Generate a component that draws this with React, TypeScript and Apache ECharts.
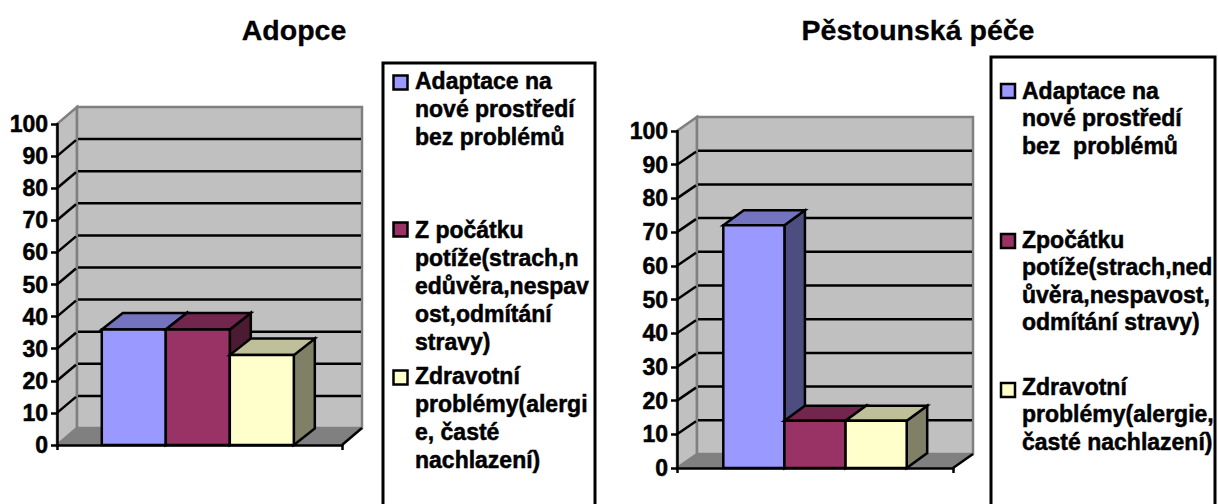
import React, { useEffect, useRef } from "react";
import * as echarts from "echarts";

const seriesNames = ["Adaptace", "Počátek", "Zdravotní"];
const adopceValues = [36, 36, 28];
const pestounskaValues = [72, 14, 14];
const yTicks = [10, 20, 30, 40, 50, 60, 70, 80, 90];
const titles = ["Adopce", "Pěstounská péče"];
const legendAdopce = [
  "Adaptace na\nnové prostředí\nbez problémů",
  "Z počátku\npotíže(strach,n\nedůvěra,nespav\nost,odmítání\nstravy)",
  "Zdravotní\nproblémy(alergi\ne, časté\nnachlazení)",
];
const legendPestounska = [
  "Adaptace na\nnové prostředí\nbez  problémů",
  "Zpočátku\npotíže(strach,ned\nůvěra,nespavost,\nodmítání stravy)",
  "Zdravotní\nproblémy(alergie,\nčasté nachlazení)",
];
const frontColors = ["#9999ff", "#993366", "#ffffcc"];
const topColors = ["#7373bf", "#73264d", "#bfbf99"];
const sideColors = ["#4d4d80", "#4d1a33", "#808066"];

const FONT = '"Liberation Sans", Arial, sans-serif';
const LW = 2.5;

function frameRenderer(dx: number, dy: number) {
  return (params: any, api: any) => {
    const cs = params.coordSys;
    const x0 = cs.x;
    const x1 = cs.x + cs.width;
    const yb = api.coord([0, 0])[1];
    const yt = api.coord([0, 100])[1];
    const children: any[] = [
      {
        type: "polygon",
        shape: { points: [[x0, yb], [x0 + dx, yb + dy], [x0 + dx, yt + dy], [x0, yt]] },
        style: { fill: "#c0c0c0", stroke: "#808080", lineWidth: LW },
      },
      {
        type: "rect",
        shape: { x: x0 + dx, y: yt + dy, width: cs.width, height: yb - yt },
        style: { fill: "#c0c0c0", stroke: "#808080", lineWidth: LW },
      },
      {
        type: "polygon",
        shape: { points: [[x0, yb], [x0 + dx, yb + dy], [x1 + dx, yb + dy], [x1, yb]] },
        style: { fill: "#808080" },
      },
      {
        type: "line",
        shape: { x1: x1, y1: yb, x2: x1 + dx, y2: yb + dy },
        style: { stroke: "#000", lineWidth: LW },
      },
    ];
    yTicks.forEach((t) => {
      const y = api.coord([0, t])[1];
      children.push({
        type: "polyline",
        shape: { points: [[x0, y], [x0 + dx - 1, y + dy + 1]] },
        style: { stroke: "#000", lineWidth: LW, fill: "none" },
      });
      children.push({
        type: "line",
        shape: { x1: x0 + dx + 1, y1: y + dy, x2: x1 + dx - 1, y2: y + dy },
        style: { stroke: "#000", lineWidth: LW },
      });
    });
    return { type: "group", children };
  };
}

function barRenderer(i: number, dx: number, dy: number, fraction: number, shift: number) {
  return (_params: any, api: any) => {
    const base = api.coord([api.value(0), 0]);
    const top = api.coord([api.value(0), api.value(1)]);
    const w = api.size([1, 0])[0] * fraction;
    const l = base[0] + shift - 1.5 * w + i * w;
    const r = l + w;
    const stroke = { stroke: "#000", lineWidth: LW, lineJoin: "miter" };
    return {
      type: "group",
      children: [
        {
          type: "polygon",
          shape: { points: [[r, base[1]], [r + dx, base[1] + dy], [r + dx, top[1] + dy], [r, top[1]]] },
          style: { fill: sideColors[i], ...stroke },
        },
        {
          type: "polygon",
          shape: { points: [[l, top[1]], [l + dx, top[1] + dy], [r + dx, top[1] + dy], [r, top[1]]] },
          style: { fill: topColors[i], ...stroke },
        },
        {
          type: "rect",
          shape: { x: l, y: top[1], width: w, height: base[1] - top[1] },
          style: { fill: frontColors[i], ...stroke },
        },
      ],
    };
  };
}

function legendGraphics(
  texts: string[],
  box: { x: number; y: number; w: number },
  markerX: number,
  textX: number,
  markerYs: number[],
  textYs: number[],
  lineHeight: number,
  fontSize: number
) {
  const out: any[] = [
    {
      type: "rect",
      shape: { x: box.x, y: box.y, width: box.w, height: 504 - box.y + 20 },
      style: { fill: "#fff", stroke: "#000", lineWidth: 3 },
      z: 1,
    },
  ];
  texts.forEach((t, i) => {
    out.push({
      type: "rect",
      shape: { x: markerX, y: markerYs[i], width: 14, height: 14 },
      style: { fill: frontColors[i], stroke: "#000", lineWidth: 2.5 },
      z: 2,
    });
    out.push({
      type: "text",
      x: textX,
      y: textYs[i],
      z: 2,
      style: {
        text: t,
        font: `bold ${fontSize}px ${FONT}`,
        fill: "#000",
        stroke: "#000",
        lineWidth: 0.5,
        lineHeight,
        align: "left",
        verticalAlign: "top",
      },
    });
  });
  return out;
}

function xAxis(gridIndex: number) {
  return {
    type: "category",
    gridIndex,
    data: [""],
    z: 10,
    axisLine: { lineStyle: { color: "#000", width: LW } },
    axisTick: { show: true, length: 5, lineStyle: { color: "#000", width: LW } },
    axisLabel: { show: false },
  };
}

function yAxis(gridIndex: number) {
  return {
    type: "value",
    gridIndex,
    min: 0,
    max: 100,
    interval: 10,
    z: 10,
    axisLine: { show: true, lineStyle: { color: "#000", width: LW } },
    axisTick: { show: true, length: 6, lineStyle: { color: "#000", width: LW } },
    axisLabel: {
      color: "#000",
      fontWeight: "bold",
      fontSize: 23,
      fontFamily: FONT,
      margin: 9,
      textBorderColor: "#000",
      textBorderWidth: 0.5,
    },
    splitLine: { show: false },
  };
}

function chartSeries(
  idx: number,
  values: number[],
  fdx: number,
  fdy: number,
  bdx: number,
  bdy: number,
  fraction: number,
  shift: number
) {
  return [
    {
      type: "custom",
      name: "frame" + idx,
      xAxisIndex: idx,
      yAxisIndex: idx,
      clip: false,
      silent: true,
      z: 1,
      renderItem: frameRenderer(fdx, fdy),
      data: [[0, 0]],
    },
    ...values.map((v, i) => ({
      type: "custom",
      name: seriesNames[i],
      xAxisIndex: idx,
      yAxisIndex: idx,
      clip: false,
      z: 2 + i,
      renderItem: barRenderer(i, bdx, bdy, fraction, shift),
      encode: { x: 0, y: 1 },
      data: [[0, v]],
    })),
  ];
}

export default function App() {
  const ref = useRef<HTMLDivElement>(null);
  useEffect(() => {
    const chart = echarts.init(ref.current!, undefined, { renderer: "svg" });
    const titleStyle = {
      fontFamily: FONT,
      fontWeight: "bold",
      fontSize: 28.5,
      color: "#000",
      textBorderColor: "#000",
      textBorderWidth: 0.3,
    };
    chart.setOption({
      animation: false,
      backgroundColor: "#fff",
      title: [
        { text: titles[0], left: 289, top: 10, textAlign: "center", textStyle: titleStyle },
        { text: titles[1], left: 913, top: 10, textAlign: "center", textStyle: titleStyle },
      ],
      grid: [
        { left: 57, top: 124, width: 285, height: 321 },
        { left: 677, top: 131, width: 276, height: 337 },
      ],
      xAxis: [xAxis(0), xAxis(1)],
      yAxis: [yAxis(0), yAxis(1)],
      series: [
        ...chartSeries(0, adopceValues, 20, -17, 21, -16.5, 0.2246, -1.7),
        ...chartSeries(1, pestounskaValues, 20, -14, 20.5, -15, 0.2215, 0),
      ],
      graphic: {
        elements: [
          ...legendGraphics(legendAdopce, { x: 383, y: 63, w: 212 }, 393.5, 415, [75.5, 222.5, 370.5], [67, 216, 362], 28, 23),
          ...legendGraphics(legendPestounska, { x: 991, y: 57, w: 224 }, 1001, 1022, [84, 234, 383], [77, 226, 373], 27.5, 23),
        ],
      },
    });
    return () => chart.dispose();
  }, []);
  return <div ref={ref} style={{ position: "absolute", left: 0, top: 0, width: 1218, height: 504 }} />;
}
